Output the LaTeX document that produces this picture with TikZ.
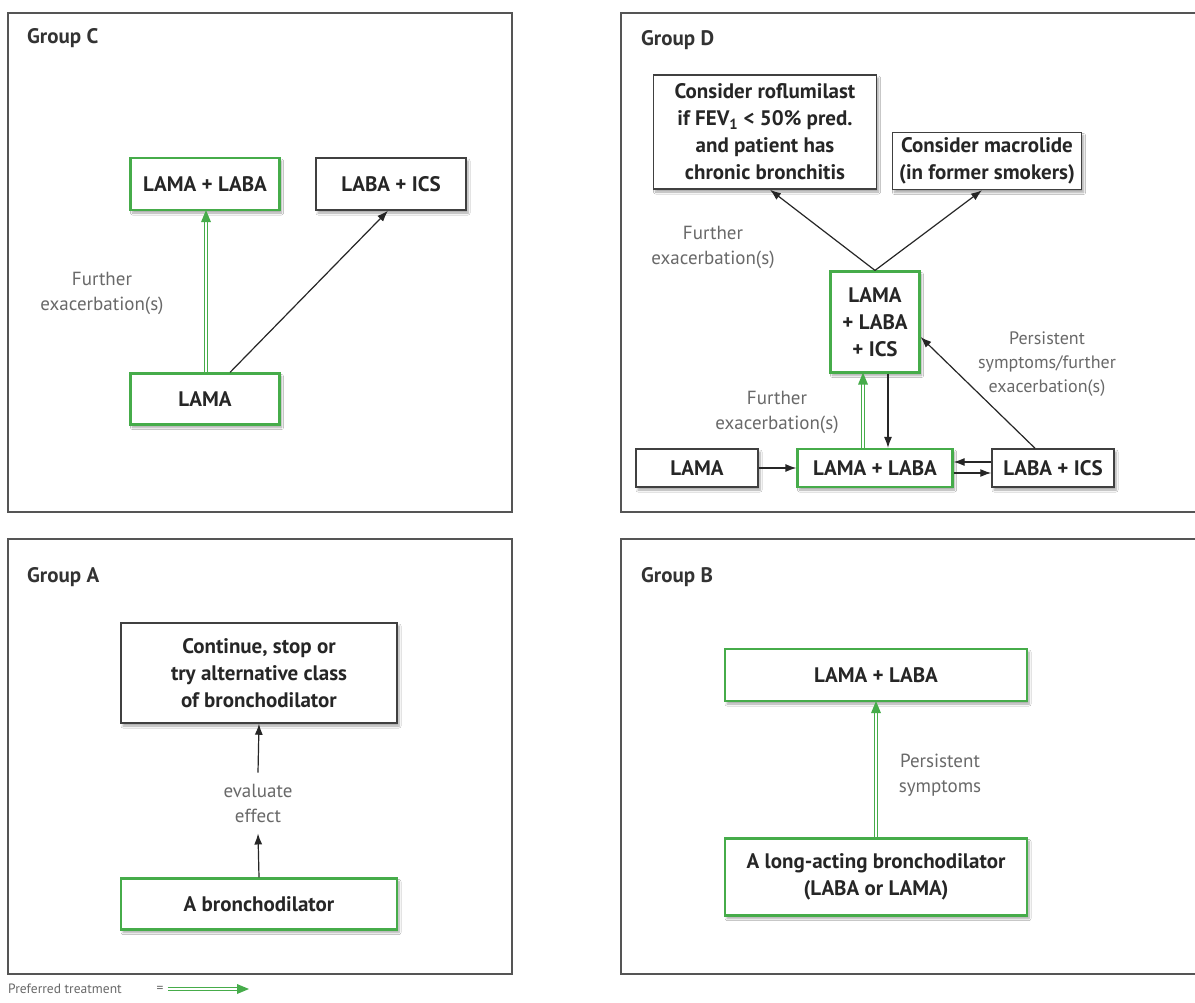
\documentclass[tikz,border=0pt]{standalone}
\usepackage{fontspec}
\setmainfont{PT Sans}
\usepackage{xcolor}
\usetikzlibrary{shapes,arrows,arrows.meta,positioning,shadows.blur,decorations.markings}

\definecolor{prefgreen}{RGB}{70,172,74}
\definecolor{framegray}{RGB}{85,85,85}
\definecolor{labelgray}{RGB}{105,105,105}

\begin{document}
\begin{tikzpicture}[x=1pt,y=-1pt,
	panel/.style={draw=framegray,line width=2pt},
	grouptitle/.style={anchor=west,inner sep=0pt,font=\fontsize{21}{24}\selectfont\bfseries,text=black!80},
	box/.style={draw=black!75,line width=1.5pt,fill=white,inner sep=0pt,align=center,
		font=\fontsize{21}{27}\selectfont\bfseries,text=black!85,
		blur shadow={shadow xshift=2pt,shadow yshift=-3pt,shadow blur steps=6,shadow opacity=35}},
	greenbox/.style={box,draw=prefgreen,line width=2.2pt},
	lbl/.style={align=center,font=\fontsize{19}{25}\selectfont,text=labelgray},
	arr/.style={-{Latex[length=11pt,width=8pt]},line width=1.2pt,draw=black!85},
	pref/.style={draw=prefgreen,line width=1.3pt,double=white,double distance=2.2pt,shorten >=9pt,
		postaction={decorate,decoration={markings,mark=at position 1 with
			{\fill[prefgreen,shorten >=0pt] (1pt,0pt) -- (-11pt,5pt) -- (-11pt,-5pt) -- cycle;}}}}
	]
	\path[use as bounding box,fill=white] (0,0) rectangle (1195,1003);
	
	% the four panels
	\draw[panel] (8,13) rectangle (512,512);
	\draw[panel] (621,13) rectangle (1210,512);
	\draw[panel] (8,539) rectangle (512,974);
	\draw[panel] (621,539) rectangle (1210,974);
	
	\node[grouptitle] (c_title) at (27,38) {Group C};
	\node[grouptitle] (d_title) at (641,40) {Group D};
	\node[grouptitle] (a_title) at (27,577) {Group A};
	\node[grouptitle] (b_title) at (641,577) {Group B};
	
	% Group C
	\node[greenbox,minimum width=149pt,minimum height=52pt] (c_lamalaba) at (205,184) {LAMA + LABA};
	\node[box,minimum width=150pt,minimum height=52pt] (c_labaics) at (391,184) {LABA + ICS};
	\node[greenbox,minimum width=149pt,minimum height=51pt] (c_lama) at (205,399) {LAMA};
	\node[lbl] (c_further) at (102,293) {Further\\exacerbation(s)};
	\draw[pref] ([xshift=1pt]c_lama.north) -- ([xshift=1pt]c_lamalaba.south);
	\draw[arr] ([xshift=25pt]c_lama.north) -- ([xshift=-3pt]c_labaics.south);
	
	% Group D
	\node[box,minimum width=223pt,minimum height=114pt] (d_roflu) at (765,132) {Consider roflumilast\\if FEV\textsubscript{1} < 50\% pred.\\and patient has\\chronic bronchitis};
	\node[box,minimum width=189pt,minimum height=57pt] (d_macro) at (987,161) {Consider macrolide\\(in former smokers)};
	\node[greenbox,minimum width=89pt,minimum height=101pt] (d_triple) at (875,322) {LAMA\\+ LABA\\+ ICS};
	\node[box,minimum width=122pt,minimum height=38pt] (d_lama) at (697,468) {LAMA};
	\node[greenbox,minimum width=155pt,minimum height=38pt] (d_lamalaba) at (875,468) {LAMA + LABA};
	\node[box,minimum width=122pt,minimum height=38pt] (d_labaics) at (1053,468) {LABA + ICS};
	\node[lbl] (d_further1) at (713,247) {Further\\exacerbation(s)};
	\node[lbl] (d_further2) at (777,412) {Further\\exacerbation(s)};
	\node[lbl,font=\fontsize{18}{24}\selectfont] (d_persist) at (1047,364) {Persistent\\symptoms/further\\exacerbation(s)};
	\draw[arr] (d_triple.north) -- ([xshift=5pt]d_roflu.south);
	\draw[arr] (d_triple.north) -- ([xshift=-5pt]d_macro.south);
	\draw[arr] (d_lama.east) -- (d_lamalaba.west);
	\draw[arr] ([yshift=6pt]d_labaics.west) -- ([yshift=6pt]d_lamalaba.east);
	\draw[arr] ([yshift=-5pt]d_lamalaba.east) -- ([yshift=-5pt]d_labaics.west);
	\draw[pref] ([xshift=-12pt]d_lamalaba.north) -- ([xshift=-12pt]d_triple.south);
	\draw[arr] ([xshift=13pt]d_triple.south) -- ([xshift=13pt]d_lamalaba.north);
	\draw[arr] ([xshift=-18pt]d_labaics.north) -- ([yshift=-15pt]d_triple.east);
	
	% Group A
	\node[box,minimum width=276pt,minimum height=100pt] (a_cont) at (259,673) {Continue, stop or\\try alternative class\\of bronchodilator};
	\node[greenbox,minimum width=276pt,minimum height=51pt] (a_bron) at (259,904) {A bronchodilator};
	\node[lbl,inner ysep=11pt] (a_eval) at (258,803) {evaluate\\effect};
	\draw[arr] (a_bron.north) -- (a_eval.south);
	\draw[arr] (a_eval.north) -- (a_cont.south);
	
	% Group B
	\node[greenbox,minimum width=302pt,minimum height=52pt] (b_lamalaba) at (876,675) {LAMA + LABA};
	\node[greenbox,minimum width=302pt,minimum height=77pt] (b_long) at (876,877) {A long-acting bronchodilator\\(LABA or LAMA)};
	\node[lbl] (b_persist) at (940,775) {Persistent\\symptoms};
	\draw[pref] (b_long.north) -- (b_lamalaba.south);
	
	% legend
	\node[lbl,anchor=west,inner sep=0pt,font=\fontsize{13.5}{16}\selectfont] (leg_text) at (8,989) {Preferred treatment};
	\node[lbl,inner sep=4pt,font=\fontsize{13.5}{16}\selectfont] (leg_eq) at (160,989) {=};
	\coordinate (leg_end) at (248,989);
	\draw[pref] (leg_eq.east) -- (leg_end);
\end{tikzpicture}
\end{document}
